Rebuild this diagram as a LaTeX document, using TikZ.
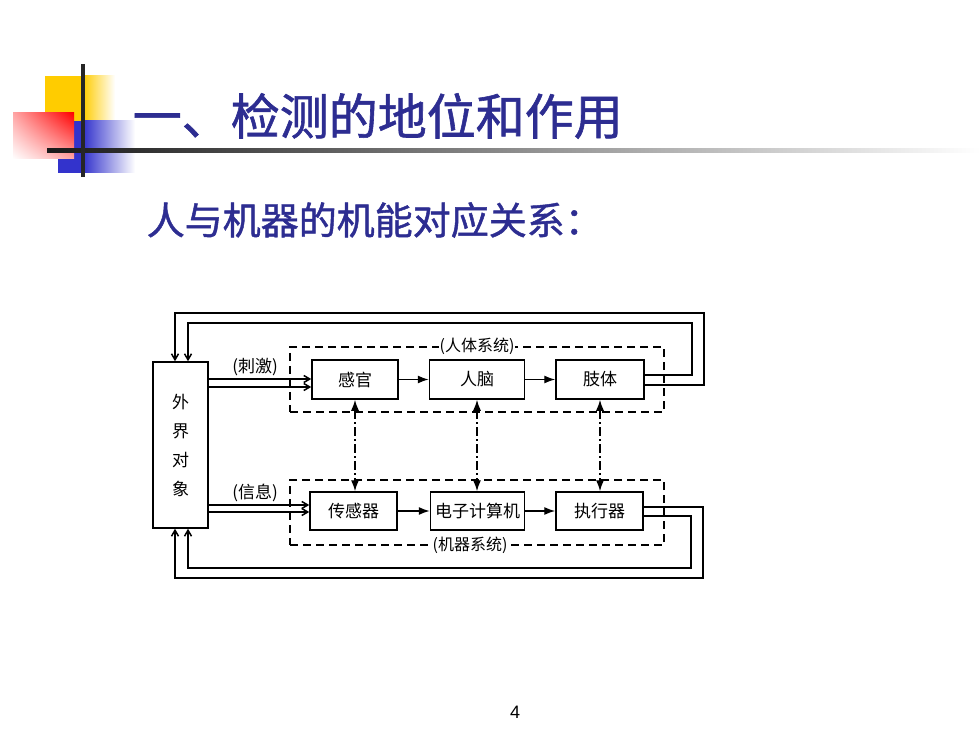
\documentclass[tikz,border=0pt]{standalone}
\usepackage{fontspec}
\setmainfont{Noto Sans CJK SC}
\newfontfamily\titlefont{Noto Sans CJK SC}[FakeBold=1.2]
\newfontfamily\numfont{Liberation Sans}
\usepackage{tikz}
\usetikzlibrary{arrows.meta,positioning,shadings}
\tikzset{>={Latex[width=8pt,length=11pt]}}
\definecolor{titleblue}{RGB}{45,45,145}
\definecolor{boxyellow}{RGB}{255,204,0}
\definecolor{boxblue}{RGB}{51,51,204}
\definecolor{boxred}{RGB}{255,0,0}

\begin{document}
\begin{tikzpicture}[x=1pt, y=-1pt, line width=1.5pt,
  blk/.style = {draw, minimum height=39pt, inner sep=0pt, font=\fontsize{17}{17}\selectfont},
  grp/.style = {draw, dash pattern=on 8pt off 5pt, line width=1.4pt, minimum width=374pt, minimum height=65pt},
  lab/.style = {fill=white, inner sep=1pt, font=\fontsize{16}{16}\selectfont},
  fb/.style = {-{Straight Barb[length=6pt,width=7pt]}},
  link/.style = {<->, dash pattern=on 9pt off 3pt on 2pt off 3pt, line width=1.3pt}]
\useasboundingbox (0,0) rectangle (980,735);
% title bar
\fill[boxyellow] (45,76) rectangle (83,121);
\shade[left color=boxyellow, right color=white] (83,76) rectangle (115,121);
\fill[boxblue] (58,121) rectangle (83,173);
\shade[left color=boxblue, right color=white] (83,121) rectangle (135,173);
\shade[upper left=boxred!35, upper right=boxred, lower left=white, lower right=boxred!35] (13,113) rectangle (74,159);
\shade[left color=black!90, right color=white] (47,149) rectangle (980,153);
\fill[black!85] (81,64) rectangle (85,177);
\node[anchor=west, inner sep=0pt, text=titleblue, font=\titlefont\fontsize{49}{49}\selectfont] (title) at (132,116) {一、检测的地位和作用};
\node[anchor=west, inner sep=0pt, text=titleblue, font=\titlefont\fontsize{38}{38}\selectfont] (sub) at (146,220) {人与机器的机能对应关系：};
% groups
\node[grp] (rt) at (477,379.5) {};
\node[grp] (jq) at (477,512.5) {};
\node[lab] at (rt.north) {(人体系统)};
\node[lab] at ([xshift=-7pt]jq.south) {(机器系统)};
% blocks
\node[draw, minimum width=55pt, minimum height=166pt, inner sep=0pt, align=center, font=\fontsize{17}{29}\selectfont] (wj) at (180.5,445) {外\\界\\对\\象};
\node[blk, minimum width=86pt] (gg) at (355,379.5) {感官};
\node[blk, minimum width=95pt, right=30pt of gg] (rn) {人脑};
\node[blk, minimum width=88pt, right=30pt of rn] (zt) {肢体};
\node[blk, minimum width=87pt, minimum height=38pt] (cgq) at (353.5,511) {传感器};
\node[blk, minimum width=94pt, minimum height=38pt, right=32pt of cgq] (dzj) {电子计算机};
\node[blk, minimum width=87pt, minimum height=38pt, right=30pt of dzj] (zxq) {执行器};
\node[font=\fontsize{17}{17}\selectfont] (cj) at (255,367) {(刺激)};
\node[font=\fontsize{17}{17}\selectfont] (xx) at (255,493) {(信息)};
% inputs
\coordinate (in1) at ([yshift=0.5pt]gg.west);
\coordinate (in2) at ([yshift=-7.5pt]gg.west);
\coordinate (in3) at ([yshift=6pt]cgq.west);
\coordinate (in4) at ([yshift=-1pt]cgq.west);
\draw[fb] (wj.east |- in1) -- (in1);
\draw[fb] (wj.east |- in2) -- (in2);
\draw[fb] (wj.east |- in3) -- (in3);
\draw[fb] (wj.east |- in4) -- (in4);
% chains
\draw[->, line width=1.3pt] (gg) -- (rn);
\draw[->, line width=1.3pt] (rn) -- (zt);
\draw[->, line width=1.3pt] (cgq) -- (dzj);
\draw[->, line width=1.3pt] (dzj) -- (zxq);
\draw[link] (gg.south) -- (gg.south |- cgq.north);
\draw[link] (rn.south) -- (rn.south |- dzj.north);
\draw[link] (zt.south) -- (zt.south |- zxq.north);
% feedback
\coordinate (t1) at (692,323);
\coordinate (t2) at (704,313);
\coordinate (b1) at (703,578);
\coordinate (b2) at (691,568);
\draw[fb] ([yshift=4.5pt]zt.east) -| (t1) -| ([xshift=7.5pt]wj.north);
\draw[fb] ([yshift=-5.5pt]zt.east) -| (t2) -| ([xshift=-5.5pt]wj.north);
\draw[fb] ([yshift=4pt]zxq.east) -| (b1) -| ([xshift=-5.5pt]wj.south);
\draw[fb] ([yshift=-5pt]zxq.east) -| (b2) -| ([xshift=7.5pt]wj.south);
\node[font=\numfont\fontsize{18}{18}\selectfont] (pg) at (515,712) {4};
\end{tikzpicture}
\end{document}
